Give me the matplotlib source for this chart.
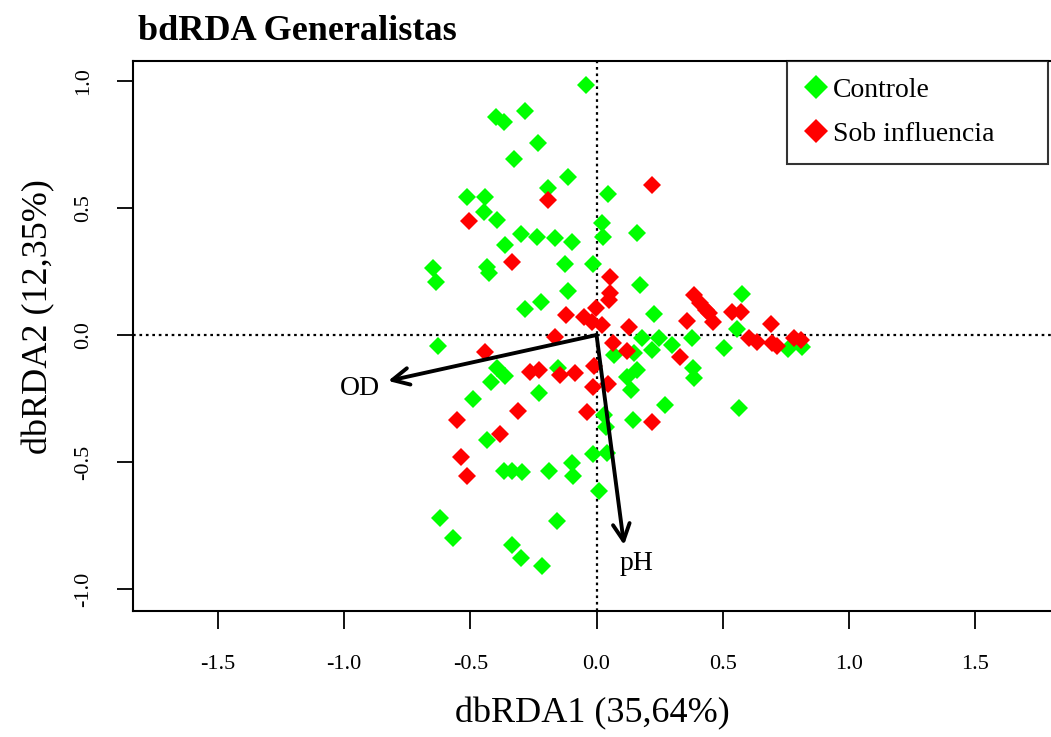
import numpy as np
import matplotlib
matplotlib.use("Agg")
import matplotlib.pyplot as plt
from matplotlib.lines import Line2D

plt.rcParams['font.family'] = ['Liberation Serif', 'DejaVu Serif']
plt.rcParams['axes.unicode_minus'] = False

# site scores
controle_x = [-0.041, -0.400, -0.367, -0.285, -0.233, -0.328, -0.112, -0.193, 0.045, -0.513,
              -0.444, -0.447, -0.396, 0.023, 0.027, 0.159, -0.298, -0.235, -0.165, -0.096,
              -0.363, -0.649, -0.638, -0.436, -0.427, -0.126, -0.013, 0.172, -0.112, -0.222,
              -0.284, 0.227, 0.577, 0.557, -0.629, 0.069, 0.181, 0.221, 0.247, 0.300,
              0.379, 0.505, 0.148, 0.758, 0.815, -0.394, -0.361, -0.420, -0.151, 0.122,
              0.135, 0.159, 0.383, 0.386, -0.489, -0.229, 0.029, 0.145, 0.036, 0.270,
              0.564, -0.436, -0.367, -0.334, -0.295, -0.189, -0.099, -0.092, -0.013, 0.042,
              0.009, -0.621, -0.568, -0.156, -0.334, -0.298, -0.218]
controle_y = [0.984, 0.859, 0.840, 0.883, 0.757, 0.694, 0.621, 0.580, 0.554, 0.545,
              0.545, 0.486, 0.453, 0.440, 0.387, 0.400, 0.396, 0.387, 0.383, 0.367,
              0.354, 0.262, 0.210, 0.266, 0.243, 0.278, 0.280, 0.197, 0.173, 0.129,
              0.102, 0.083, 0.161, 0.022, -0.043, -0.079, -0.013, -0.059, -0.013, -0.040,
              -0.013, -0.050, -0.072, -0.056, -0.049, -0.131, -0.161, -0.184, -0.131, -0.164,
              -0.217, -0.138, -0.131, -0.171, -0.253, -0.227, -0.315, -0.335, -0.361, -0.276,
              -0.289, -0.413, -0.534, -0.534, -0.538, -0.534, -0.505, -0.555, -0.470, -0.466,
              -0.614, -0.719, -0.798, -0.732, -0.827, -0.877, -0.909]

influencia_x = [-0.192, 0.221, -0.506, -0.334, 0.055, 0.055, 0.049, -0.123, -0.050, -0.004,
                -0.017, 0.023, 0.128, -0.165, -0.444, 0.065, 0.119, 0.330, 0.388, 0.412,
                0.433, 0.445, 0.462, 0.357, 0.538, 0.573, 0.690, 0.604, 0.637, 0.696,
                0.716, 0.782, 0.809, -0.262, -0.229, -0.143, -0.087, -0.011, -0.013, 0.045,
                -0.312, -0.037, -0.552, 0.221, -0.384, -0.539, -0.513]
influencia_y = [0.531, 0.589, 0.449, 0.289, 0.227, 0.165, 0.138, 0.079, 0.072, 0.105,
                0.052, 0.039, 0.030, -0.007, -0.068, -0.033, -0.062, -0.085, 0.157, 0.125,
                0.100, 0.085, 0.052, 0.056, 0.092, 0.092, 0.043, -0.013, -0.026, -0.033,
                -0.043, -0.013, -0.020, -0.144, -0.138, -0.157, -0.151, -0.122, -0.203, -0.193,
                -0.299, -0.302, -0.335, -0.341, -0.390, -0.479, -0.555]

# environmental vectors
env_names = ['OD', 'pH']
env_x = [-0.826, 0.109]
env_y = [-0.181, -0.827]
env_label_x = [-0.937, 0.157]
env_label_y = [-0.209, -0.898]

tick_vals_x = [-1.5, -1.0, -0.5, 0.0, 0.5, 1.0, 1.5]
tick_vals_y = [-1.0, -0.5, 0.0, 0.5, 1.0]

fig = plt.figure(figsize=(10.51, 7.37), dpi=100)
ax = fig.add_axes([133 / 1051, 126 / 737, 919 / 1051, 550 / 737])

ax.axhline(0, color='black', lw=1.6, ls=(0, (1.2, 1.7)), zorder=1)
ax.axvline(0, color='black', lw=1.6, ls=(0, (1.2, 1.7)), zorder=1)

ax.plot(controle_x, controle_y, ls='none', marker='D', ms=9.3, mew=0,
        color='#00ff00', zorder=2)
ax.plot(influencia_x, influencia_y, ls='none', marker='D', ms=9.3, mew=0,
        color='#ff0000', zorder=3)

for name, ex, ey, lx, ly in zip(env_names, env_x, env_y, env_label_x, env_label_y):
    ax.annotate('', xy=(ex, ey), xytext=(0, 0),
                arrowprops=dict(arrowstyle='->,head_length=0.6,head_width=0.3',
                                lw=2.8, color='black', shrinkA=0, shrinkB=0,
                                mutation_scale=20),
                zorder=4)
    ax.text(lx, ly, name, fontsize=20, ha='center', va='center', zorder=5)

ax.set_xlim(-1.837, 1.805)
ax.set_ylim(-1.087, 1.079)

ax.set_xticks(tick_vals_x)
ax.set_xticklabels(['%.1f' % v for v in tick_vals_x])
ax.set_yticks(tick_vals_y)
ax.set_yticklabels(['%.1f' % v for v in tick_vals_y], rotation=90, va='center')
ax.tick_params(axis='x', length=13, width=1.3, pad=19, labelsize=16)
ax.tick_params(axis='y', length=11.5, width=1.3, pad=17, labelsize=16)
for s in ax.spines.values():
    s.set_linewidth(1.5)

ax.set_xlabel('dbRDA1 (35,64%)', fontsize=26, labelpad=16)
ax.set_ylabel('dbRDA2 (12,35%)', fontsize=26)
ax.yaxis.set_label_coords(-0.085, 0.535)

fig.text(138 / 1051, 1 - 31 / 737, 'bdRDA Generalistas', fontsize=26,
         fontweight='bold', ha='left', va='center')

handles = [Line2D([], [], ls='none', marker='D', ms=12.5, mew=0, color='#00ff00'),
           Line2D([], [], ls='none', marker='D', ms=12.5, mew=0, color='#ff0000')]
leg = ax.legend(handles, ['Controle', 'Sob influencia'], loc='upper left',
                bbox_to_anchor=(787 / 1051, 1 - 164 / 737, 261 / 1051, 103 / 737),
                bbox_transform=fig.transFigure, mode='expand', borderaxespad=0,
                fontsize=20, frameon=True, fancybox=False, edgecolor='black',
                handlelength=0.9, handletextpad=0.15, borderpad=0.6,
                labelspacing=0.66)
leg.get_frame().set_linewidth(1.5)

fig.savefig('out.png', dpi=100)
